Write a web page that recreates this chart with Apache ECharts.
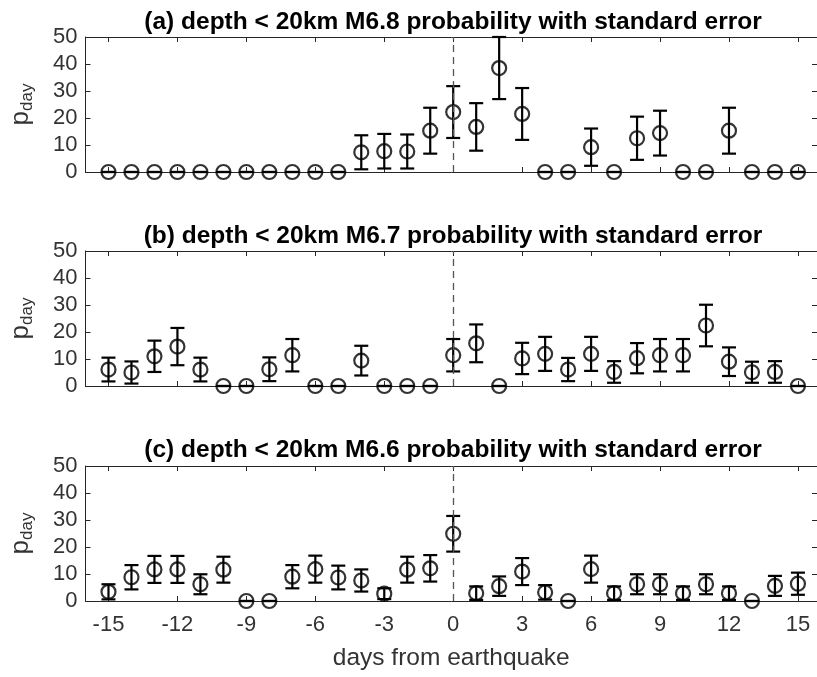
<!DOCTYPE html>
<html>
<head>
<meta charset="UTF-8">
<title>p_day</title>
<script src="https://cdn.jsdelivr.net/npm/echarts@6/dist/echarts.min.js"></script>
<style>
  body { margin: 0; background: #fff; }
  #main { width: 817px; height: 677px; }
</style>
</head>
<body>
<div id="main"></div>
<script>
// days from earthquake
var days = [-15, -14, -13, -12, -11, -10, -9, -8, -7, -6, -5, -4, -3, -2, -1,
            0, 1, 2, 3, 4, 5, 6, 7, 8, 9, 10, 11, 12, 13, 14, 15];
var xTicks = [-15, -12, -9, -6, -3, 0, 3, 6, 9, 12, 15];

// (a) M6.8
var pA = [0, 0, 0, 0, 0, 0, 0, 0, 0, 0, 0, 7.3, 7.7, 7.6, 15.3,
          22.2, 16.7, 38.5, 21.5, 0, 0, 9.2, 0, 12.5, 14.4, 0, 0, 15.3, 0, 0, 0];
var eA = [0, 0, 0, 0, 0, 0, 0, 0, 0, 0, 0, 6.3, 6.4, 6.3, 8.5,
          9.6, 8.8, 11.5, 9.6, 0, 0, 6.9, 0, 8.0, 8.3, 0, 0, 8.5, 0, 0, 0];
// (b) M6.7
var pB = [6.1, 5.0, 11.0, 14.6, 6.1, 0, 0, 6.2, 11.4, 0, 0, 9.4, 0, 0, 0,
          11.4, 15.8, 0, 10.2, 11.9, 6.1, 11.9, 5.2, 10.3, 11.4, 11.4, 22.4, 9.0, 5.1, 5.2, 0];
var eB = [4.4, 4.1, 5.8, 6.9, 4.4, 0, 0, 4.4, 6.0, 0, 0, 5.5, 0, 0, 0,
          6.0, 7.0, 0, 5.8, 6.3, 4.3, 6.3, 4.0, 5.6, 6.0, 6.0, 7.7, 5.3, 3.9, 4.0, 0];
// (c) M6.6
var pC = [3.4, 8.8, 11.7, 11.7, 6.2, 11.6, 0, 0, 9.0, 11.8, 8.7, 7.6, 2.7, 11.6, 12.1,
          24.9, 2.9, 5.5, 10.9, 3.2, 0, 11.8, 2.9, 6.2, 6.2, 2.9, 6.2, 2.9, 0, 5.6, 6.4];
var eC = [2.8, 4.5, 5.0, 5.0, 3.7, 4.8, 0, 0, 4.3, 5.0, 4.4, 4.1, 2.0, 4.8, 4.9,
          6.6, 2.5, 3.6, 5.0, 2.7, 0, 5.0, 2.5, 3.7, 3.7, 2.5, 3.7, 2.5, 0, 3.7, 4.1];

var titles = [
  '(a) depth < 20km M6.8 probability with standard error',
  '(b) depth < 20km M6.7 probability with standard error',
  '(c) depth < 20km M6.6 probability with standard error'
];

var FONT = '"Liberation Sans", Arial, sans-serif';
var AX = '#262626';
var panels = [
  { p: pA, e: eA, top: 37, titleY: 22 },
  { p: pB, e: eB, top: 251, titleY: 236 },
  { p: pC, e: eC, top: 466, titleY: 450 }
];

var chart = echarts.init(document.getElementById('main'));
var option = {
  animation: false,
  grid: [], xAxis: [], yAxis: [], series: [], graphic: []
};

panels.forEach(function (pn, k) {
  var last = (k === 2);
  option.grid.push({ left: 85, top: pn.top, width: 734, height: 135 });
  // bottom x axis
  option.xAxis.push({
    type: 'value', gridIndex: k, min: -16, max: 15.83, position: 'bottom',
    axisLine: { onZero: false, lineStyle: { color: AX, width: 1 } },
    axisTick: { inside: true, length: 5, customValues: xTicks, lineStyle: { color: AX } },
    axisLabel: { show: last, customValues: xTicks, margin: 13, color: '#333',
                 fontSize: 22, fontFamily: FONT },
    splitLine: { show: false },
    name: last ? 'days from earthquake' : '',
    nameLocation: 'middle', nameGap: 45,
    nameTextStyle: { color: '#333', fontSize: 24.5, fontFamily: FONT }
  });
  // top x axis (box)
  option.xAxis.push({
    type: 'value', gridIndex: k, min: -16, max: 15.83, position: 'top',
    axisLine: { onZero: false, lineStyle: { color: AX, width: 1 } },
    axisTick: { inside: true, length: 5, customValues: xTicks, lineStyle: { color: AX } },
    axisLabel: { show: false },
    splitLine: { show: false }
  });
  option.yAxis.push({
    type: 'value', gridIndex: k, min: 0, max: 50, interval: 10, position: 'left',
    axisLine: { show: true, onZero: false, lineStyle: { color: AX, width: 1 } },
    axisTick: { show: true, inside: true, length: 5, lineStyle: { color: AX } },
    axisLabel: { margin: 8, color: '#333', fontSize: 22, fontFamily: FONT },
    splitLine: { show: false },
    name: '{p|p}{s|day}', nameLocation: 'middle', nameRotate: 90, nameGap: 50,
    nameTextStyle: {
      color: '#333', fontFamily: FONT,
      rich: {
        p: { fontSize: 26, fontFamily: FONT, color: '#333' },
        s: { fontSize: 17, fontFamily: FONT, color: '#333', padding: [12, 0, 0, 0] }
      }
    }
  });
  option.yAxis.push({
    type: 'value', gridIndex: k, min: 0, max: 50, interval: 10, position: 'right',
    axisLine: { show: true, onZero: false, lineStyle: { color: AX, width: 1 } },
    axisTick: { show: true, inside: true, length: 5, lineStyle: { color: AX } },
    axisLabel: { show: false },
    splitLine: { show: false }
  });

  var data = days.map(function (d, i) { return [d, pn.p[i], pn.e[i]]; });

  option.series.push({
    type: 'custom', xAxisIndex: 2 * k, yAxisIndex: 2 * k, clip: false,
    data: data,
    renderItem: function (params, api) {
      var x = api.value(0), y = api.value(1), e = api.value(2);
      var hi = api.coord([x, y + e]);
      var lo = api.coord([x, y - e]);
      var w = 7;
      var st = { stroke: '#000', lineWidth: 2.2 };
      return {
        type: 'group',
        children: [
          { type: 'line', shape: { x1: hi[0], y1: hi[1], x2: lo[0], y2: lo[1] }, style: st },
          { type: 'line', shape: { x1: hi[0] - w, y1: hi[1], x2: hi[0] + w, y2: hi[1] }, style: st },
          { type: 'line', shape: { x1: lo[0] - w, y1: lo[1], x2: lo[0] + w, y2: lo[1] }, style: st }
        ]
      };
    },
    markLine: {
      silent: true, symbol: 'none',
      label: { show: false },
      lineStyle: { type: [7, 5], color: '#555', width: 1.3 },
      data: [{ xAxis: 0 }]
    }
  });
  option.series.push({
    type: 'scatter', xAxisIndex: 2 * k, yAxisIndex: 2 * k, clip: false,
    data: data, symbol: 'circle', symbolSize: 14,
    itemStyle: { color: 'rgba(0,0,0,0)', borderColor: '#000', borderWidth: 2.2 }
  });

  option.graphic.push({
    type: 'text', x: 453, y: pn.titleY,
    style: {
      text: titles[k], fill: '#000', font: 'bold 24.5px ' + FONT,
      textAlign: 'center', textVerticalAlign: 'middle'
    }
  });
});

chart.setOption(option);
</script>
</body>
</html>
